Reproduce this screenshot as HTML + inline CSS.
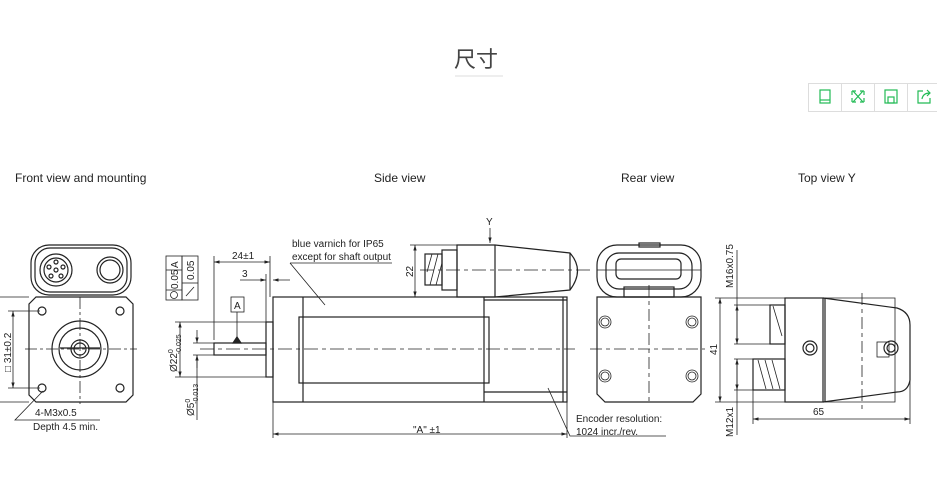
<!DOCTYPE html>
<html><head><meta charset="utf-8"><style>
body{margin:0;background:#fff;width:937px;height:489px;overflow:hidden;font-family:"Liberation Sans","Noto Sans CJK SC",sans-serif}
svg{position:absolute;left:0;top:0}
</style></head><body>
<svg width="937" height="489" viewBox="0 0 937 489" xmlns="http://www.w3.org/2000/svg" font-family="Liberation Sans, Noto Sans CJK SC, sans-serif">
<defs>
<marker id="a" viewBox="0 0 10 10" refX="10" refY="5" markerWidth="7" markerHeight="7" orient="auto-start-reverse"><path d="M0,2 L10,5 L0,8z" fill="#222"/></marker>
</defs>
<text x="454" y="67" font-size="22" fill="#444">尺寸</text>
<line x1="455" y1="76" x2="503" y2="76" stroke="#ddd"/>
<g stroke="#ddd" fill="none"><rect x="808.5" y="83.5" width="130" height="28"/><line x1="841.5" y1="83" x2="841.5" y2="111"/><line x1="874.5" y1="83" x2="874.5" y2="111"/><line x1="907.5" y1="83" x2="907.5" y2="111"/></g>
<g stroke="#2b5" fill="none" stroke-width="1.2">
<rect x="820" y="90" width="10" height="13"/><line x1="820" y1="100" x2="830" y2="100"/>
<path d="M853 91l10 11M863 91l-10 11M852 91h4M852 91v4M864 91h-4M864 91v4M852 102h4M852 102v-4M864 102h-4M864 102v-4"/>
<rect x="885" y="90" width="12" height="13"/><rect x="888" y="97" width="6" height="6"/>
<path d="M923 91h-5v12h12v-5M922 99q1-6 8-6M927 90l3 3-3 3"/>
</g>
<g font-size="12" fill="#222">
<text x="15" y="182">Front view and mounting</text>
<text x="374" y="182">Side view</text>
<text x="621" y="182">Rear view</text>
<text x="798" y="182">Top view Y</text>
</g>
<g stroke="#222" fill="none" stroke-width="1.2">
<!-- front view -->
<rect x="31" y="245" width="100" height="50" rx="18"/><rect x="35" y="248" width="92" height="44" rx="15"/>
<circle cx="56" cy="270" r="16"/><circle cx="56" cy="270" r="12"/><circle cx="56" cy="270" r="2"/>
<circle cx="56" cy="262" r="2"/><circle cx="63" cy="267" r="2"/><circle cx="61" cy="276" r="2"/><circle cx="51" cy="276" r="2"/><circle cx="49" cy="267" r="2"/>
<circle cx="110" cy="270" r="13"/><circle cx="110" cy="270" r="10"/>
<path d="M36 297H126L133 304V395L126 402H36L29 395V304Z"/>
<circle cx="42" cy="311" r="4"/><circle cx="120" cy="311" r="4"/><circle cx="42" cy="388" r="4"/><circle cx="120" cy="388" r="4"/>
<circle cx="80" cy="349" r="28"/><circle cx="80" cy="349" r="21"/><circle cx="80" cy="349" r="9"/><circle cx="80" cy="349" r="6"/>
<line x1="60" y1="348" x2="100" y2="348"/>
<line x1="25" y1="349" x2="137" y2="349" stroke-dasharray="12,3,3,3" stroke-width=".8"/>
<line x1="80" y1="297" x2="80" y2="404" stroke-dasharray="12,3,3,3" stroke-width=".8"/>
<line x1="0" y1="297" x2="29" y2="297" stroke-width=".8"/><line x1="0" y1="402" x2="29" y2="402" stroke-width=".8"/>
<line x1="8" y1="311" x2="40" y2="311" stroke-width=".8"/><line x1="8" y1="388" x2="40" y2="388" stroke-width=".8"/>
<line x1="13" y1="311" x2="13" y2="388" stroke-width=".8" marker-start="url(#a)" marker-end="url(#a)"/>
<path d="M43 391L15 420H100" stroke-width=".8"/>
<!-- side view -->
<rect x="273" y="297" width="294" height="105"/>
<line x1="303" y1="297" x2="303" y2="402"/><line x1="484" y1="297" x2="484" y2="402"/>
<rect x="299" y="317" width="190" height="66"/>
<line x1="563" y1="297" x2="563" y2="402"/><line x1="484" y1="300" x2="567" y2="300"/><line x1="484" y1="392" x2="567" y2="392"/>
<rect x="266" y="322" width="7" height="55"/>
<rect x="214" y="343" width="52" height="12"/>
<line x1="200" y1="349" x2="575" y2="349" stroke-dasharray="14,4,4,4" stroke-width=".8"/>
<path d="M457 245H495L570 253Q585 270 570 290L495 297H457Z"/><line x1="495" y1="245" x2="495" y2="297"/><line x1="570" y1="253" x2="570" y2="290"/>
<rect x="442" y="250" width="15" height="40"/><rect x="425" y="254" width="17" height="31"/>
<path d="M430 285l8-31M436 285l6-22M427 272l5-18" stroke-width=".8"/>
<line x1="420" y1="270" x2="590" y2="270" stroke-dasharray="14,4,4,4" stroke-width=".8"/>
<line x1="410" y1="245" x2="457" y2="245" stroke-width=".8"/>
<line x1="415" y1="245" x2="415" y2="297" stroke-width=".8" marker-start="url(#a)" marker-end="url(#a)"/>
<line x1="490" y1="228" x2="490" y2="243" stroke-width=".8" marker-end="url(#a)"/>
<line x1="214" y1="256" x2="214" y2="340" stroke-width=".8"/><line x1="270" y1="256" x2="270" y2="297" stroke-width=".8"/>
<line x1="214" y1="262" x2="270" y2="262" stroke-width=".8" marker-start="url(#a)" marker-end="url(#a)"/>
<line x1="266" y1="274" x2="266" y2="322" stroke-width=".8"/>
<line x1="240" y1="280" x2="266" y2="280" stroke-width=".8" marker-end="url(#a)"/><line x1="290" y1="280" x2="273" y2="280" stroke-width=".8" marker-end="url(#a)"/>
<rect x="166" y="256" width="16" height="44" stroke-width=".8"/><line x1="166" y1="270" x2="182" y2="270" stroke-width=".8"/><line x1="166" y1="290" x2="182" y2="290" stroke-width=".8"/>
<circle cx="174" cy="295" r="3.5" stroke-width=".8"/>
<rect x="182" y="256" width="16" height="44" stroke-width=".8"/><line x1="182" y1="283" x2="198" y2="283" stroke-width=".8"/>
<path d="M186 296L194 287" stroke-width=".8"/>
<rect x="231" y="297" width="13" height="15" stroke-width=".8"/>
<line x1="237" y1="312" x2="237" y2="343" stroke-width=".8"/><path d="M233 343L237 337L241 343Z" fill="#222"/>
<line x1="175" y1="322" x2="266" y2="322" stroke-width=".8"/><line x1="175" y1="377" x2="266" y2="377" stroke-width=".8"/>
<line x1="180" y1="322" x2="180" y2="377" stroke-width=".8" marker-start="url(#a)" marker-end="url(#a)"/>
<line x1="193" y1="343" x2="214" y2="343" stroke-width=".8"/><line x1="193" y1="355" x2="214" y2="355" stroke-width=".8"/>
<line x1="197" y1="330" x2="197" y2="343" stroke-width=".8" marker-end="url(#a)"/><line x1="197" y1="368" x2="197" y2="355" stroke-width=".8" marker-end="url(#a)"/><line x1="197" y1="355" x2="197" y2="420" stroke-width=".8"/>
<line x1="273" y1="402" x2="273" y2="438" stroke-width=".8"/><line x1="567" y1="402" x2="567" y2="438" stroke-width=".8"/>
<line x1="273" y1="434" x2="567" y2="434" stroke-width=".8" marker-start="url(#a)" marker-end="url(#a)"/>
<path d="M548 388L570 436H666" stroke-width=".8"/>
<path d="M290 263H392M290 263L325 305" stroke-width=".8"/>
<!-- rear view -->
<rect x="597" y="245" width="104" height="52" rx="20"/><rect x="606" y="253" width="86" height="36" rx="13"/><rect x="616" y="259" width="65" height="20" rx="5"/>
<rect x="639" y="243" width="21" height="4"/>
<line x1="597" y1="270" x2="701" y2="270" stroke-width=".8"/>
<rect x="624" y="287" width="50" height="10"/>
<path d="M597 297H701V394L693 402H605L597 394Z"/>
<g stroke-width=".8"><circle cx="605" cy="322" r="6"/><circle cx="605" cy="322" r="4"/><circle cx="692" cy="322" r="6"/><circle cx="692" cy="322" r="4"/><circle cx="605" cy="376" r="6"/><circle cx="605" cy="376" r="4"/><circle cx="692" cy="376" r="6"/><circle cx="692" cy="376" r="4"/>
<line x1="649" y1="285" x2="649" y2="405" stroke-dasharray="12,4,4,4"/><line x1="590" y1="349" x2="705" y2="349" stroke-dasharray="12,4,4,4"/></g>
<!-- top view -->
<rect x="785" y="298" width="38" height="104"/>
<path d="M823 298H895V402H823" stroke-width=".8"/>
<path d="M823 298L897 308Q910 312 910 325V380Q908 392 897 392L823 402"/>
<line x1="825" y1="298" x2="825" y2="402"/>
<rect x="770" y="305" width="15" height="39"/><rect x="753" y="359" width="32" height="31"/>
<path d="M773 306l9 30M758 360l8 29M765 360l8 29M772 360l8 29" stroke-width=".8"/>
<circle cx="810" cy="348" r="7"/><circle cx="810" cy="348" r="4"/><circle cx="891" cy="348" r="7"/><circle cx="891" cy="348" r="4"/>
<rect x="877" y="342" width="12" height="15" stroke-width=".8"/>
<line x1="862" y1="293" x2="862" y2="412" stroke-dasharray="12,4,4,4" stroke-width=".8"/>
<line x1="715" y1="298" x2="785" y2="298" stroke-width=".8"/><line x1="715" y1="402" x2="785" y2="402" stroke-width=".8"/>
<line x1="720" y1="298" x2="720" y2="402" stroke-width=".8" marker-start="url(#a)" marker-end="url(#a)"/>
<line x1="734" y1="305" x2="770" y2="305" stroke-width=".8"/><line x1="734" y1="344" x2="770" y2="344" stroke-width=".8"/>
<line x1="734" y1="359" x2="753" y2="359" stroke-width=".8"/><line x1="734" y1="390" x2="753" y2="390" stroke-width=".8"/>
<line x1="737" y1="250" x2="737" y2="344" stroke-width=".8" marker-end="url(#a)"/><line x1="737" y1="305" x2="737" y2="344" stroke-width=".8" marker-start="url(#a)"/>
<line x1="737" y1="359" x2="737" y2="435" stroke-width=".8" marker-start="url(#a)"/><line x1="737" y1="359" x2="737" y2="390" stroke-width=".8" marker-end="url(#a)"/>
<line x1="753" y1="390" x2="753" y2="424" stroke-width=".8"/><line x1="910" y1="350" x2="910" y2="424" stroke-width=".8"/>
<line x1="753" y1="419" x2="910" y2="419" stroke-width=".8" marker-start="url(#a)" marker-end="url(#a)"/>
</g>
<g font-size="10" fill="#222">
<text transform="translate(11,372) rotate(-90)">□ 31±0.2</text>
<text x="35" y="416">4-M3x0.5</text>
<text x="33" y="430">Depth 4.5 min.</text>
<text x="292" y="247">blue varnich for IP65</text>
<text x="292" y="260">except for shaft output</text>
<text x="486" y="225">Y</text>
<text transform="translate(413,277) rotate(-90)">22</text>
<text x="232" y="259">24±1</text>
<text x="242" y="277">3</text>
<text transform="translate(178,268) rotate(-90)">A</text>
<text transform="translate(178,289) rotate(-90)">0.05</text>
<text transform="translate(194,280) rotate(-90)">0.05</text>
<text x="234" y="309">A</text>
<text transform="translate(177,372) rotate(-90)">Ø22<tspan dy="-4" font-size="7">0</tspan><tspan dx="-5" dy="8" font-size="7">-0.025</tspan></text>
<text transform="translate(194,416) rotate(-90)">Ø5<tspan dy="-4" font-size="7">0</tspan><tspan dx="-5" dy="8" font-size="7">-0.013</tspan></text>
<text x="413" y="433">"A" ±1</text>
<text x="576" y="422">Encoder resolution:</text>
<text x="576" y="435">1024 incr./rev.</text>
<text transform="translate(733,288) rotate(-90)">M16x0.75</text>
<text transform="translate(733,437) rotate(-90)">M12x1</text>
<text transform="translate(717,355) rotate(-90)">41</text>
<text x="813" y="415">65</text>
</g>
</svg>
</body></html>
